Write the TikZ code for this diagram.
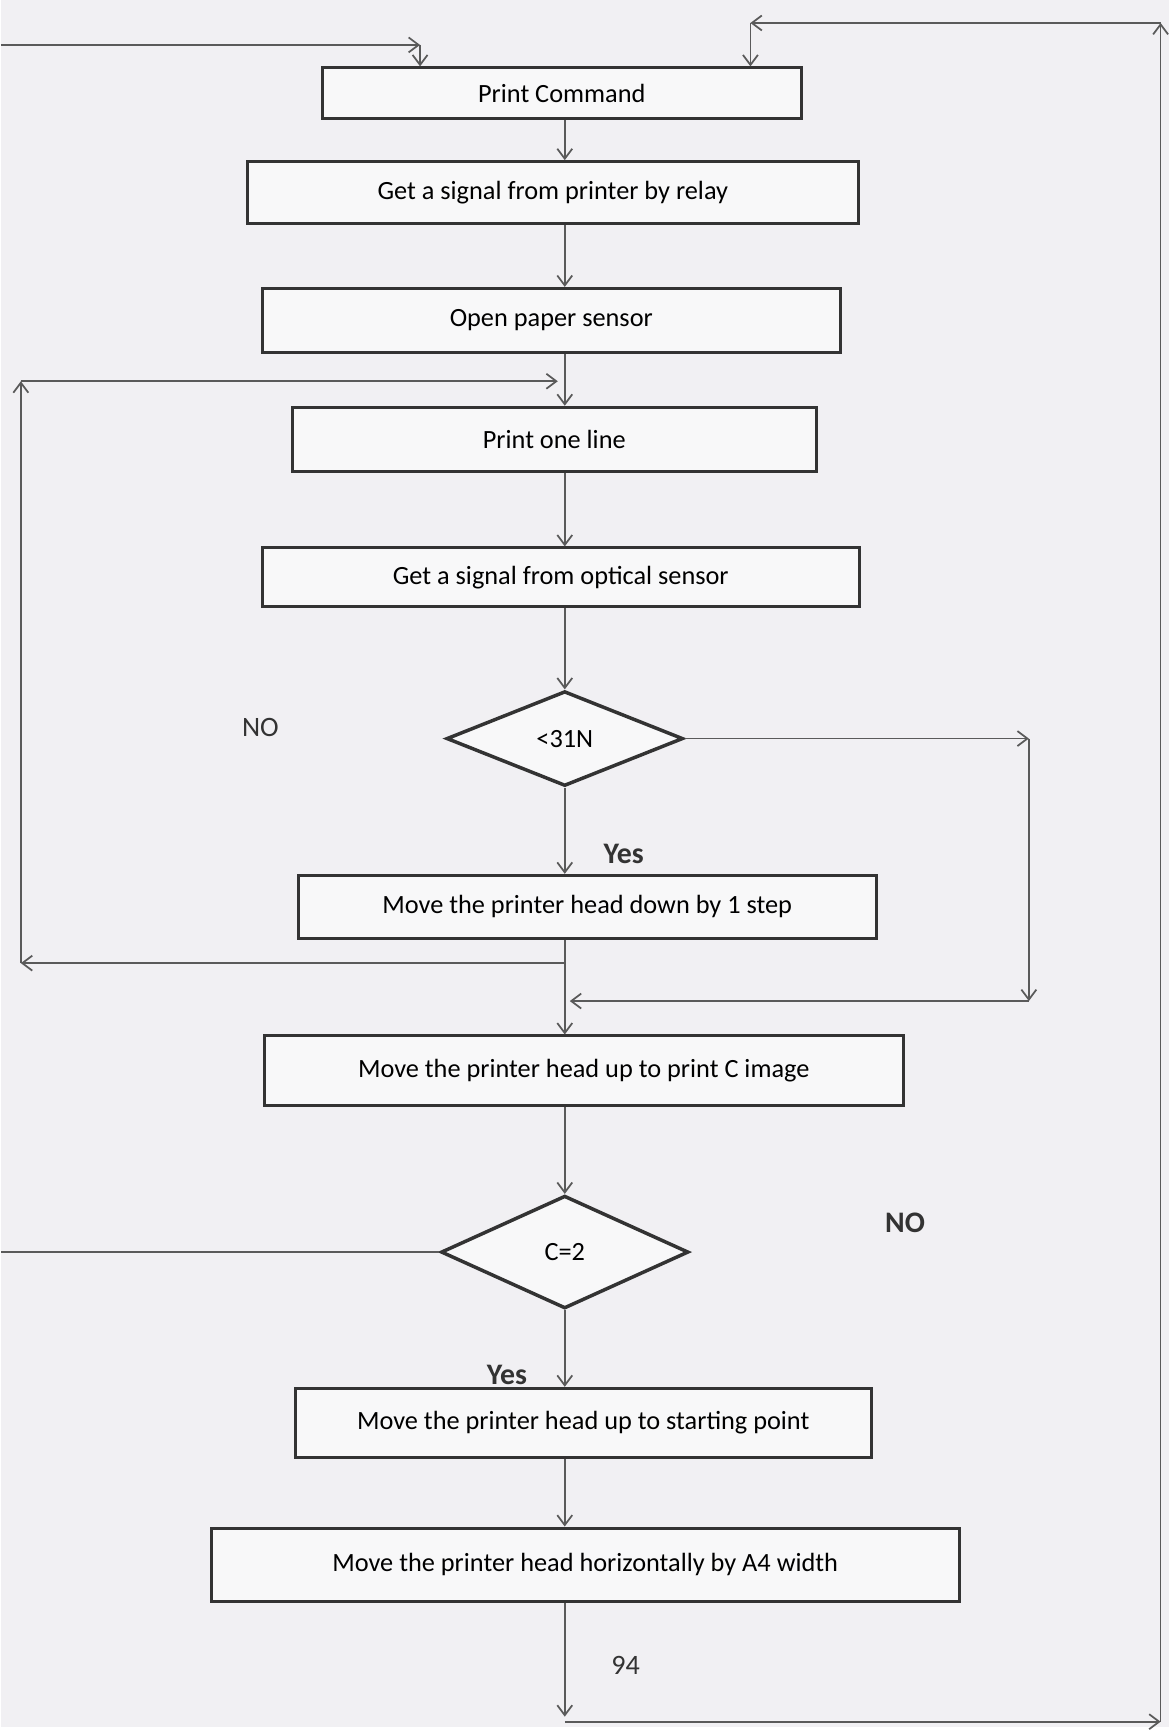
\documentclass[tikz,border=0pt]{standalone}
\usepackage{fontspec}
\setmainfont{Carlito}
\usepackage{tikz}
\usetikzlibrary{arrows.meta,shapes.geometric}
\definecolor{paper}{HTML}{F1F0F3}
\definecolor{boxfill}{HTML}{F8F8F9}
\definecolor{ink}{HTML}{333333}
\definecolor{wire}{HTML}{5A5A5A}
\tikzset{
  stepbox/.style={
    rectangle, draw=ink, fill=boxfill, line width=0.6mm,
    font=\fontsize{15}{18}\selectfont, align=center,
    inner sep=0pt
  },
  decision/.style={
    diamond, draw=ink, fill=boxfill, line width=0.7mm,
    font=\fontsize{15}{18}\selectfont, inner sep=0pt
  },
  flowarrow/.style={
    draw=wire, line width=0.35mm, -{Straight Barb[length=2mm, width=3mm]}
  },
  flowline/.style={
    draw=wire, line width=0.35mm
  },
  branchlabel/.style={
    font=\fontsize{17}{20}\selectfont\bfseries, text=ink, inner sep=0pt
  },
  pagelabel/.style={
    font=\fontsize{16}{19}\selectfont, text=ink, inner sep=0pt
  },
}

\begin{document}
\begin{tikzpicture}[x=0.2mm, y=-0.2mm]

% page
\fill[paper] (0,0) rectangle (1170,1730);
\coordinate (spine) at (565,0);

% Main column
\node[stepbox, minimum width=9.6cm, minimum height=1.02cm] (cmd) at (562,93.5) {Print Command};
\node[stepbox, minimum width=12.24cm, minimum height=1.24cm] (relay) at (553,193) {Get a signal from printer by relay};
\node[stepbox, minimum width=11.58cm, minimum height=1.28cm] (paper-sensor) at (551.5,321) {Open paper sensor};
\node[stepbox, minimum width=10.5cm, minimum height=1.28cm] (one-line) at (554.5,440) {Print one line};
\node[stepbox, minimum width=11.96cm, minimum height=1.18cm] (optical) at (561,578.5) {Get a signal from optical sensor};
\node[decision, minimum width=4.74cm, minimum height=1.9cm] (check-n) at (565,740) {<31N};
\node[stepbox, minimum width=11.58cm, minimum height=1.26cm] (head-down) at (587.5,908.5) {Move the printer head down by 1 step};
\node[stepbox, minimum width=12.8cm, minimum height=1.4cm] (head-up) at (584,1073) {Move the printer head up to print C image};
\node[decision, minimum width=4.96cm, minimum height=2.26cm] (check-c) at (565,1254.5) {C=2};
\node[stepbox, minimum width=11.54cm, minimum height=1.38cm] (head-home) at (583.5,1425.5) {Move the printer head up to starting point};
\node[stepbox, minimum width=14.98cm, minimum height=1.48cm] (head-side) at (585.5,1568) {Move the printer head horizontally by A4 width};

% Labels
\node[pagelabel] (no-n) at (260,729) {NO};
\node[branchlabel] (yes-n) at (624,856) {Yes};
\node[branchlabel] (no-c) at (906,1225) {NO};
\node[branchlabel] (yes-c) at (507,1378) {Yes};
\node[pagelabel] (page-no) at (626,1669) {94};

% Spine arrows
\foreach \a/\b in {cmd/relay, relay/paper-sensor, paper-sensor/one-line, one-line/optical,
                   optical/check-n, check-n/head-down, head-down/head-up, head-up/check-c,
                   check-c/head-home, head-home/head-side}
  \draw[flowarrow] (\a.south -| spine) -- (\b.north -| spine);

% Entry from the left
\coordinate (in-left) at (0,45);
\coordinate (in-corner) at (420,45);
\draw[flowarrow] (in-left) -- (in-corner);
\draw[flowarrow] (in-corner) -- (in-corner |- cmd.north);

% Return path round the right edge
\coordinate (ret-bot) at (565,1720);
\coordinate (ret-br) at (1162,1725);
\coordinate (ret-tr) at (1162,23);
\coordinate (ret-tl) at (751,23);
\draw[flowarrow] (head-side.south -| spine) -- (ret-bot);
\draw[flowarrow] (ret-bot |- ret-br) -- (ret-br);
\draw[flowarrow] (ret-br) -- (ret-tr);
\draw[flowarrow] (ret-tr) -- (ret-tl);
\draw[flowarrow] (ret-tl) -- (ret-tl |- cmd.north);

% Loop back to print one line
\coordinate (lp-join) at (565,965);
\coordinate (lp-bl) at (20,965);
\coordinate (lp-tl) at (20,382);
\coordinate (lp-in) at (558,382);
\draw[flowarrow] (lp-join) -- (lp-bl);
\draw[flowarrow] (lp-bl) -- (lp-tl);
\draw[flowarrow] (lp-tl) -- (lp-in);

% Bypass on the right
\coordinate (rp-tr) at (1030,740);
\coordinate (rp-br) at (1030,1003);
\coordinate (rp-in) at (570,1003);
\draw[flowarrow] (check-n.east) -- (rp-tr);
\draw[flowarrow] (rp-tr) -- (rp-br);
\draw[flowarrow] (rp-br) -- (rp-in);

% Exit of C=2
\coordinate (exit-c) at (0,1254.5);
\draw[flowline] (check-c.west) -- (exit-c);

\end{tikzpicture}
\end{document}
